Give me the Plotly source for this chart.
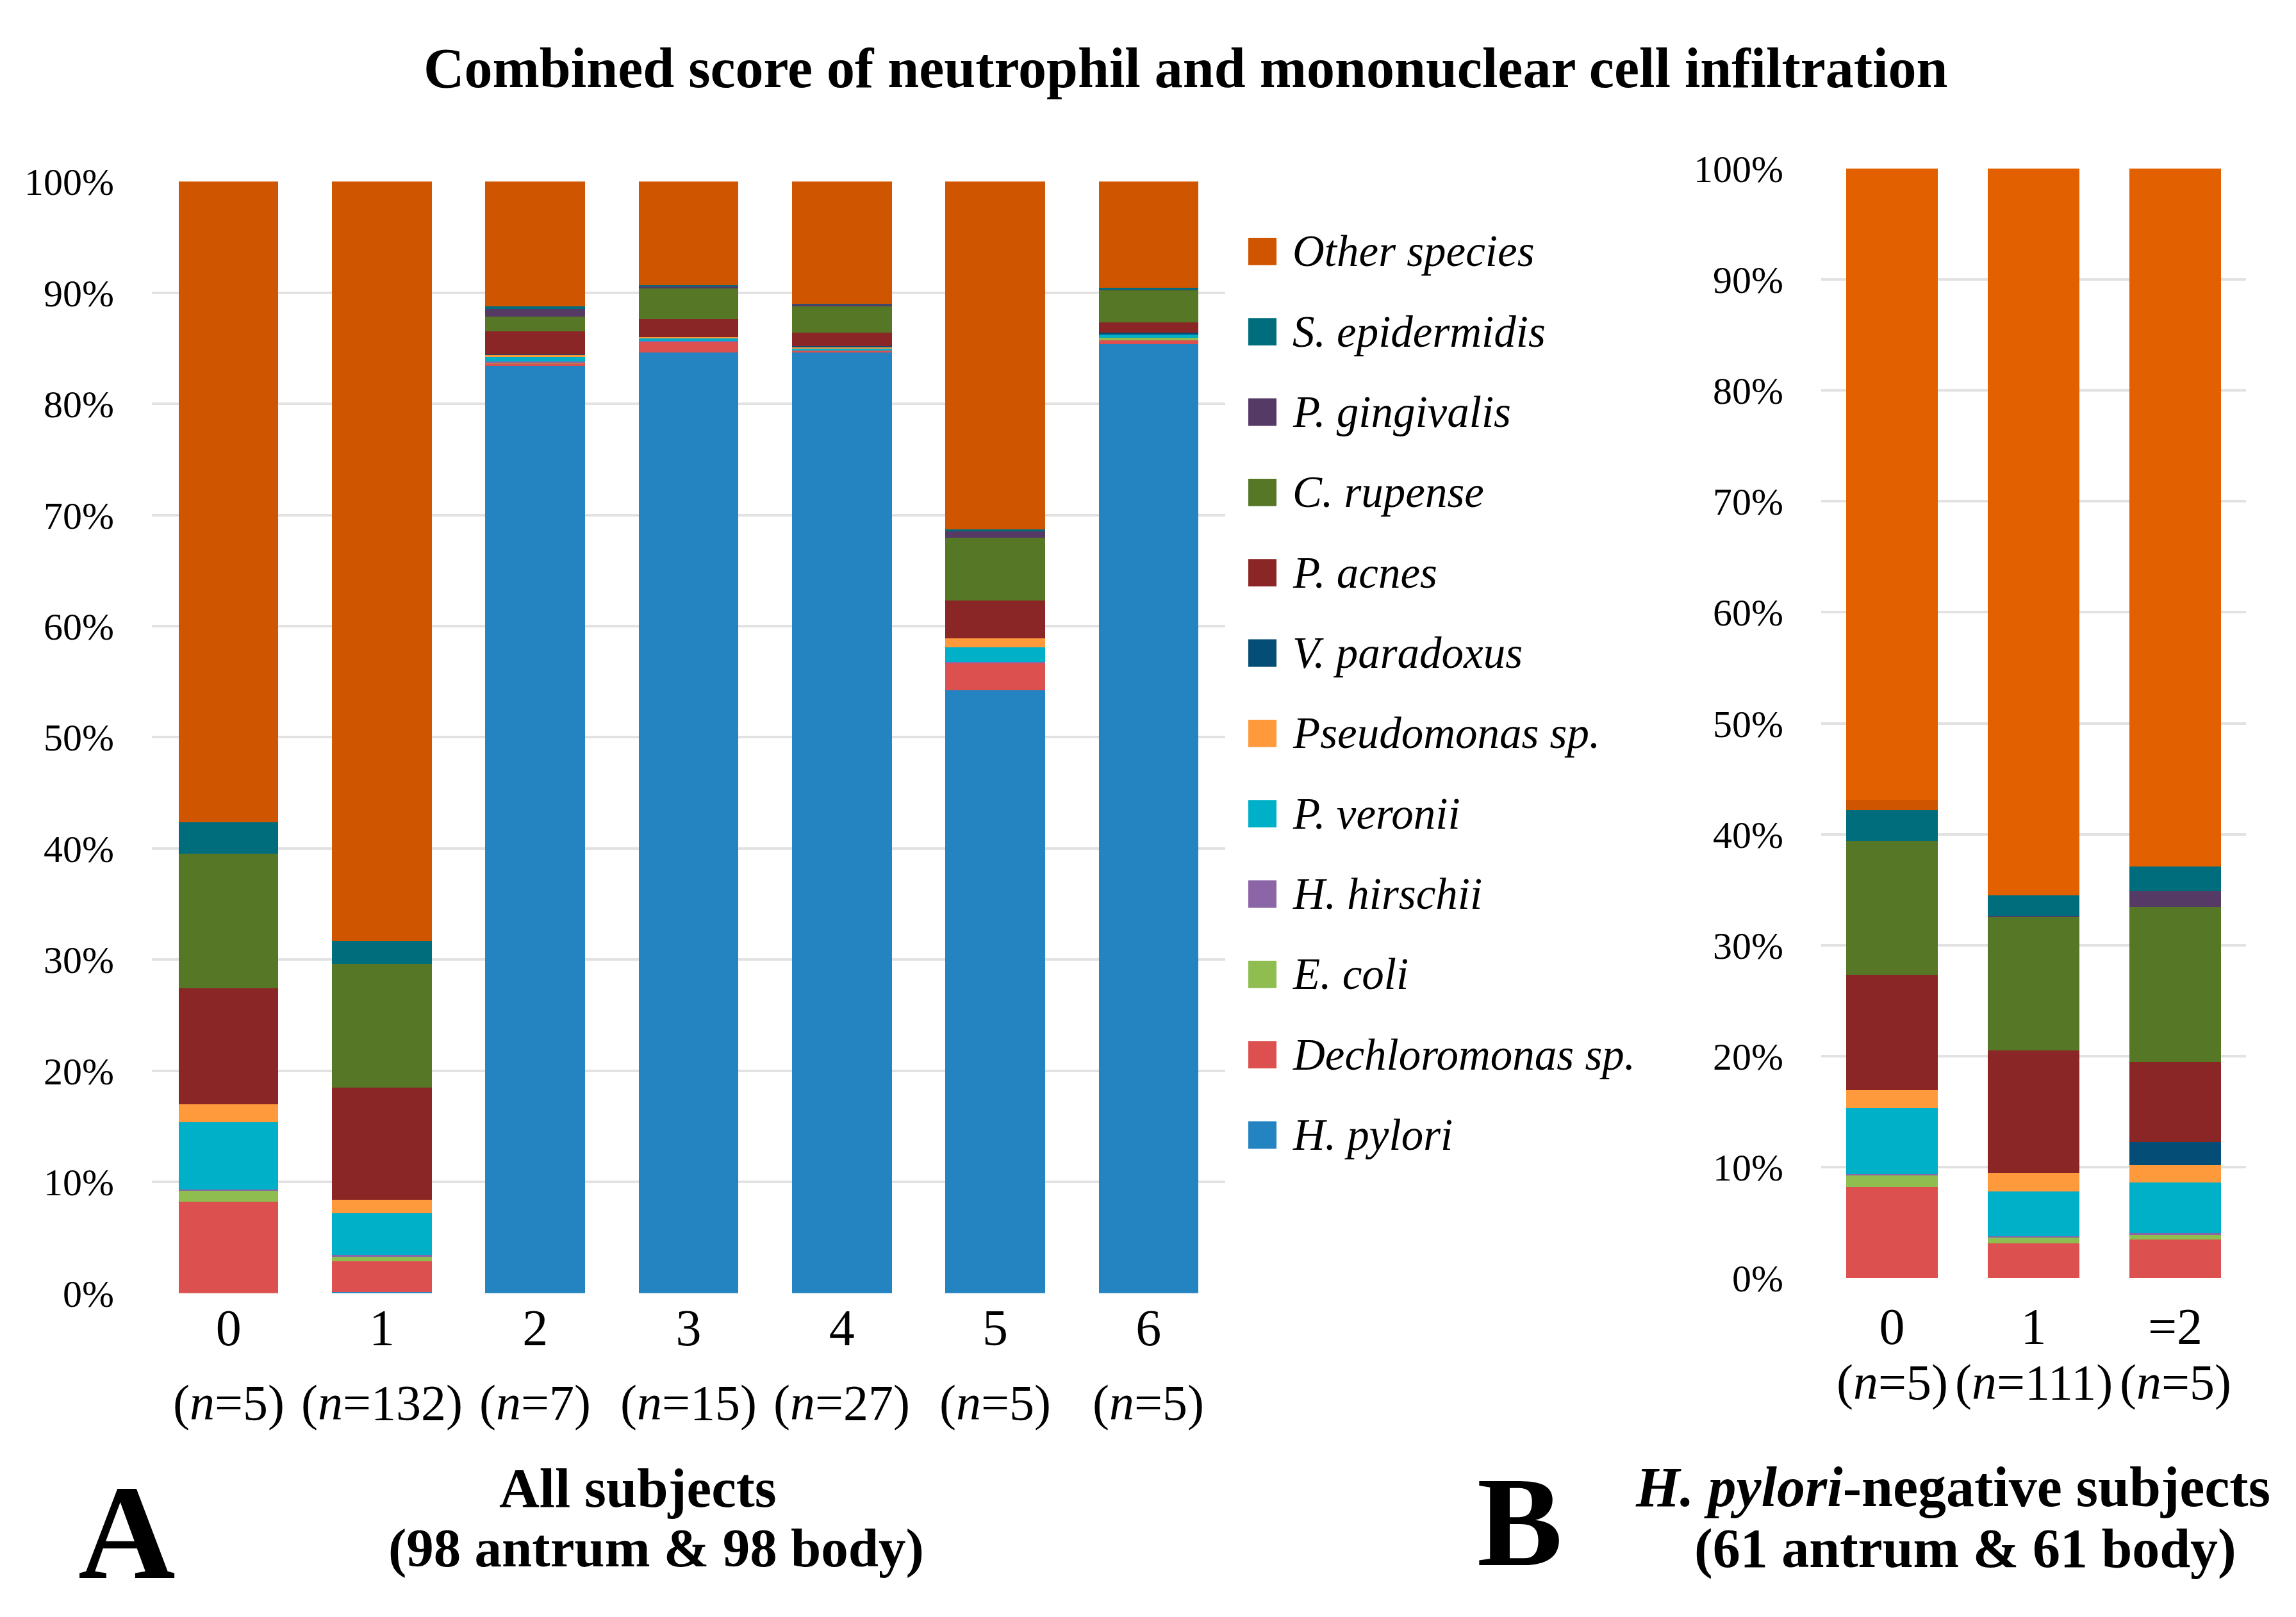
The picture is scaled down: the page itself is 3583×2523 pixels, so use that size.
import plotly.graph_objects as go

# ---------------- data ----------------
species = ["H. pylori", "Dechloromonas sp.", "E. coli", "H. hirschii", "P. veronii",
           "Pseudomonas sp.", "V. paradoxus", "P. acnes", "C. rupense", "P. gingivalis",
           "S. epidermidis", "Other species"]
colors = ["#2483C1", "#DD5050", "#8FBD50", "#8B65A6", "#00AFC8",
          "#FF9A3C", "#034D77", "#8B2626", "#557726", "#553A66",
          "#006D7D", "#D05500"]
color_other_b = "#E36000"

cats_a = ["0", "1", "2", "3", "4", "5", "6"]
n_a = ["5", "132", "7", "15", "27", "5", "5"]
cats_b = ["0", "1", "=2"]
n_b = ["5", "111", "5"]

# panel A (percent of reads)
a_hpylori = [0.0, 0.08, 83.40, 84.64, 84.60, 54.24, 85.35]
a_dechlor = [8.20, 2.76, 0.25, 0.90, 0.20, 2.44, 0.35]
a_ecoli = [0.98, 0.43, 0.05, 0.02, 0.0, 0.0, 0.23]
a_hhirsch = [0.16, 0.16, 0.10, 0.10, 0.0, 0.10, 0.0]
a_pveron = [6.03, 3.78, 0.40, 0.26, 0.20, 1.32, 0.32]
a_pseudo = [1.60, 1.18, 0.20, 0.10, 0.09, 0.80, 0.0]
a_vparad = [0.0, 0.0, 0.02, 0.0, 0.13, 0.0, 0.13]
a_pacnes = [10.48, 10.09, 2.09, 1.58, 1.16, 3.41, 0.93]
a_crup = [12.10, 11.15, 1.35, 2.77, 2.41, 5.67, 2.93]
a_pging = [0.0, 0.0, 0.70, 0.22, 0.16, 0.55, 0.05]
a_sepi = [2.80, 2.05, 0.20, 0.10, 0.05, 0.20, 0.14]
a_other = [57.65, 68.32, 11.24, 9.31, 11.00, 31.27, 9.57]

# panel B
b_hpylori = [0.0, 0.0, 0.0]
b_dechlor = [8.21, 3.16, 3.51]
b_ecoli = [1.02, 0.47, 0.40]
b_hhirsch = [0.12, 0.12, 0.15]
b_pveron = [5.96, 4.06, 4.54]
b_pseudo = [1.62, 1.70, 1.58]
b_vparad = [0.0, 0.0, 2.09]
b_pacnes = [10.42, 11.01, 7.19]
b_crup = [12.03, 12.00, 14.00]
b_pging = [0.0, 0.12, 1.46]
b_sepi = [2.81, 1.85, 2.18]
b_other_dark = [0.94, 0.0, 0.0]
b_other = [56.87, 65.51, 62.90]

vals_a = [a_hpylori, a_dechlor, a_ecoli, a_hhirsch, a_pveron, a_pseudo, a_vparad,
          a_pacnes, a_crup, a_pging, a_sepi, a_other]
vals_b = [b_hpylori, b_dechlor, b_ecoli, b_hhirsch, b_pveron, b_pseudo, b_vparad,
          b_pacnes, b_crup, b_pging, b_sepi, b_other_dark, b_other]
colors_b = colors[:-1] + [colors[-1], color_other_b]
names_b = species[:-1] + ["Other species", "Other species"]

# ---------------- figure ----------------
W, H = 3583, 2523
FONT = "Liberation Serif"

def px_x(p):
    return p / W

def px_y(p):
    return 1 - p / H

fig = go.Figure()
for name, col, v in zip(species, colors, vals_a):
    fig.add_trace(go.Bar(x=cats_a, y=v, name=name, marker=dict(color=col, line=dict(width=0)),
                         xaxis="x", yaxis="y", showlegend=False))
for name, col, v in zip(names_b, colors_b, vals_b):
    fig.add_trace(go.Bar(x=cats_b, y=v, name=name, marker=dict(color=col, line=dict(width=0)),
                         xaxis="x2", yaxis="y2", showlegend=False))

grid = "#E2E2E2"
yax = dict(range=[0, 100], dtick=10, ticksuffix="%", showgrid=True, gridcolor=grid,
           gridwidth=3.5, zeroline=False, showline=False, ticks="",
           tickfont=dict(family=FONT, size=60, color="black"), ticklabelstandoff=58,
           fixedrange=True)
xax = dict(type="category", showgrid=False, zeroline=False, showline=False, ticks="",
           tickfont=dict(family=FONT, size=80, color="black"), fixedrange=True)

fig.update_layout(
    width=W, height=H,
    margin=dict(l=0, r=0, t=0, b=0),
    paper_bgcolor="white", plot_bgcolor="white",
    barmode="stack", bargap=0.35,
    showlegend=False,
    xaxis=dict(xax, domain=[px_x(237), px_x(1912)], anchor="y"),
    yaxis=dict(yax, domain=[px_y(2039), px_y(258)], anchor="x"),
    xaxis2=dict(xax, domain=[px_x(2842), px_x(3505)], anchor="y2", ticklabelstandoff=22),
    yaxis2=dict(yax, domain=[px_y(2015), px_y(237)], anchor="x2"),
    font=dict(family=FONT, color="black"),
)

ann = []
# title
ann.append(dict(text="<b>Combined score of neutrophil and mononuclear cell infiltration</b>",
                x=px_x(1851), y=px_y(77), xref="paper", yref="paper",
                xanchor="center", yanchor="middle", showarrow=False,
                font=dict(family=FONT, size=88, color="black")))
# sample-size labels under the category ticks
for c, n in zip(cats_a, n_a):
    ann.append(dict(text=f"(<i>n</i>={n})", x=c, y=px_y(2214), xref="x", yref="paper",
                    xanchor="center", yanchor="middle", showarrow=False,
                    font=dict(family=FONT, size=78, color="black")))
for c, n in zip(cats_b, n_b):
    ann.append(dict(text=f"(<i>n</i>={n})", x=c, y=px_y(2182), xref="x2", yref="paper",
                    xanchor="center", yanchor="middle", showarrow=False,
                    font=dict(family=FONT, size=78, color="black")))
# panel captions
caps = [
    ("<b>A</b>", 198, 2422, 210),
    ("<b>B</b>", 2371, 2405, 200),
    ("<b>All subjects</b>", 995, 2351, 87),
    ("<b>(98 antrum &amp; 98 body)</b>", 1024, 2448, 85),
    ("<b><i>H. pylori</i>-negative subjects</b>", 3047, 2350, 88),
    ("<b>(61 antrum &amp; 61 body)</b>", 3067, 2448, 86),
]
for t, x, y, s in caps:
    ann.append(dict(text=t, x=px_x(x), y=px_y(y), xref="paper", yref="paper",
                    xanchor="center", yanchor="middle", showarrow=False,
                    font=dict(family=FONT, size=s, color="black")))

# legend (top entry = top of stack)
shapes = []
leg_items = list(zip(species, colors))[::-1]
for i, (name, col) in enumerate(leg_items):
    yc = 370 + i * 128.7
    shapes.append(dict(type="rect", xref="paper", yref="paper",
                       x0=px_x(1948), x1=px_x(1992), y0=px_y(yc + 22), y1=px_y(yc - 22),
                       fillcolor=col, line=dict(width=0)))
    ann.append(dict(text=f"<i>{name}</i>", x=px_x(2015), y=px_y(yc), xref="paper", yref="paper",
                    xanchor="left", yanchor="middle", showarrow=False,
                    font=dict(family=FONT, size=69, color="black")))

fig.update_layout(annotations=ann, shapes=shapes)

fig.write_html("out.html", config={"displayModeBar": False},
               post_script="document.body.style.margin='0';document.body.style.overflow='hidden';")
